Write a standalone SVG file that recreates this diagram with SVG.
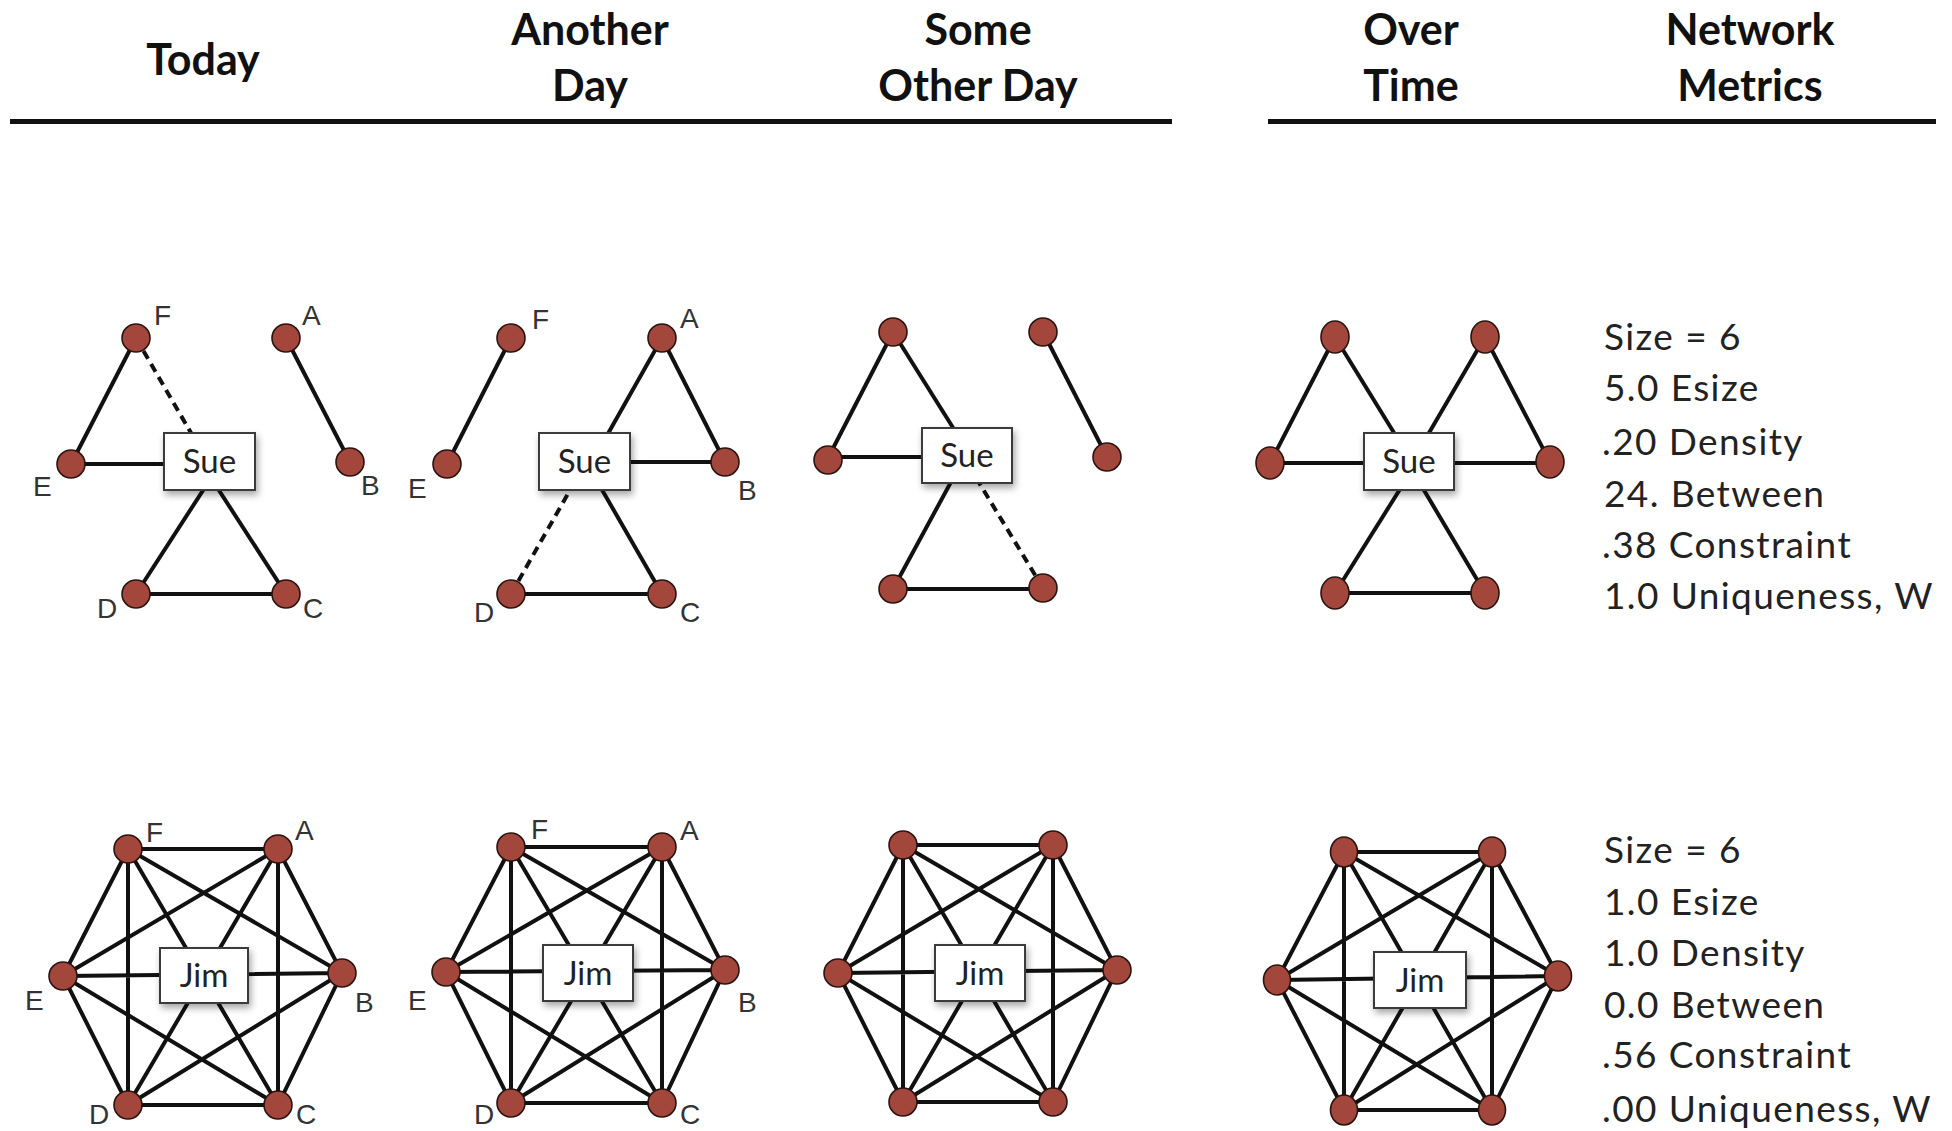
<svg xmlns="http://www.w3.org/2000/svg" width="1952" height="1131" viewBox="0 0 1952 1131">
<style>
.hdr{font-family:Lato,"Open Sans","Liberation Sans",sans-serif;font-weight:bold;font-size:43px;fill:#111;text-anchor:middle}
.rule{stroke:#111;stroke-width:5}
.e{stroke:#111;stroke-width:4;fill:none}
.d{stroke:#111;stroke-width:4;fill:none;stroke-dasharray:9 6}
.n{fill:#A3473D;stroke:#2a1410;stroke-width:1.6}
.box{fill:#fff;stroke:#3a3a3a;stroke-width:2}
.bt{font-family:Lato,"Open Sans","Liberation Sans",sans-serif;font-size:33px;fill:#222;text-anchor:middle}
.lb{font-family:"Liberation Sans",Arial,sans-serif;font-size:28px;fill:#333}
.m{font-family:Lato,"Open Sans","Liberation Sans",sans-serif;font-size:37px;letter-spacing:1.4px;fill:#222}
</style>
<defs>
<filter id="sh" x="-30%" y="-30%" width="170%" height="180%">
<feDropShadow dx="2" dy="4" stdDeviation="3.5" flood-color="#000" flood-opacity="0.35"/>
</filter>
</defs>
<rect width="1952" height="1131" fill="#fff"/>

<g id="header">
<text class="hdr" x="203" y="75">Today</text>
<text class="hdr" x="590" y="45">Another</text>
<text class="hdr" x="590" y="101">Day</text>
<text class="hdr" x="978" y="45">Some</text>
<text class="hdr" x="978" y="101">Other Day</text>
<text class="hdr" x="1411" y="45">Over</text>
<text class="hdr" x="1411" y="101">Time</text>
<text class="hdr" x="1750" y="45">Network</text>
<text class="hdr" x="1750" y="101">Metrics</text>
<line class="rule" x1="10" y1="121.5" x2="1172" y2="121.5"/>
<line class="rule" x1="1268" y1="121.5" x2="1936" y2="121.5"/>
</g>

<g id="connectors">
<!-- Sue Today -->
<line class="e" x1="136" y1="338" x2="71" y2="464"/>
<line class="d" x1="136" y1="338" x2="209" y2="464"/>
<line class="e" x1="71" y1="464" x2="209" y2="464"/>
<line class="e" x1="211" y1="478" x2="136" y2="594"/>
<line class="e" x1="211" y1="478" x2="286" y2="594"/>
<line class="e" x1="136" y1="594" x2="286" y2="594"/>
<line class="e" x1="286" y1="338" x2="350" y2="462"/>
<!-- Sue Another Day -->
<line class="e" x1="511" y1="338" x2="447" y2="464"/>
<line class="e" x1="662" y1="338" x2="592" y2="462"/>
<line class="e" x1="662" y1="338" x2="725" y2="462"/>
<line class="e" x1="585" y1="462" x2="725" y2="462"/>
<line class="d" x1="511" y1="594" x2="586" y2="462"/>
<line class="e" x1="586" y1="462" x2="662" y2="594"/>
<line class="e" x1="511" y1="594" x2="662" y2="594"/>
<!-- Sue Some Other Day -->
<line class="e" x1="893" y1="332" x2="828" y2="458"/>
<line class="e" x1="893" y1="332" x2="972" y2="458"/>
<line class="e" x1="828" y1="457" x2="967" y2="457"/>
<line class="e" x1="1043" y1="332" x2="1107" y2="457"/>
<line class="e" x1="964" y1="458" x2="893" y2="589"/>
<line class="d" x1="1043" y1="588" x2="964" y2="458"/>
<line class="e" x1="893" y1="589" x2="1043" y2="589"/>
<!-- Sue Over Time -->
<line class="e" x1="1335" y1="337" x2="1270" y2="463"/>
<line class="e" x1="1335" y1="337" x2="1412" y2="462"/>
<line class="e" x1="1485" y1="337" x2="1412" y2="462"/>
<line class="e" x1="1485" y1="337" x2="1550" y2="462"/>
<line class="e" x1="1270" y1="463" x2="1550" y2="463"/>
<line class="e" x1="1412" y1="470" x2="1335" y2="593"/>
<line class="e" x1="1412" y1="470" x2="1485" y2="593"/>
<line class="e" x1="1335" y1="593" x2="1485" y2="593"/>
<!-- Jim Today K6 -->
<path class="e" d="M128 849L278 849L342 973L278 1105L128 1105L63 976Z M128 849L342 973 M128 849L128 1105 M278 849L63 976 M278 849L278 1105 M342 973L128 1105 M278 1105L63 976 M128 849L278 1105 M278 849L128 1105 M63 976L342 973"/>
<!-- Jim Another Day K6 -->
<path class="e" d="M511 847L662 847L725 970L662 1103L511 1103L446 972Z M511 847L725 970 M511 847L511 1103 M662 847L446 972 M662 847L662 1103 M725 970L511 1103 M662 1103L446 972 M511 847L662 1103 M662 847L511 1103 M446 972L725 970"/>
<!-- Jim Some Other Day K6 -->
<path class="e" d="M903 845L1053 845L1117 970L1053 1102L903 1102L838 973Z M903 845L1117 970 M903 845L903 1102 M1053 845L838 973 M1053 845L1053 1102 M1117 970L903 1102 M1053 1102L838 973 M903 845L1053 1102 M1053 845L903 1102 M838 973L1117 970"/>
<!-- Jim Over Time K6 -->
<path class="e" d="M1344 852L1492 852L1558 976L1492 1110L1344 1110L1277 980Z M1344 852L1558 976 M1344 852L1344 1110 M1492 852L1277 980 M1492 852L1492 1110 M1558 976L1344 1110 M1492 1110L1277 980 M1344 852L1492 1110 M1492 852L1344 1110 M1277 980L1558 976"/>
</g>

<g id="sue-today">
<circle class="n" cx="136" cy="338" r="14"/><circle class="n" cx="286" cy="338" r="14"/>
<circle class="n" cx="71" cy="464" r="14"/><circle class="n" cx="350" cy="462" r="14"/>
<circle class="n" cx="136" cy="594" r="14"/><circle class="n" cx="286" cy="594" r="14"/>
<text class="lb" x="154" y="325">F</text><text class="lb" x="302" y="325">A</text>
<text class="lb" x="33" y="496">E</text><text class="lb" x="361" y="495">B</text>
<text class="lb" x="97" y="618">D</text><text class="lb" x="303" y="618">C</text>
<rect class="box" filter="url(#sh)" x="164" y="433" width="91" height="57"/>
<text class="bt" x="209.5" y="473">Sue</text>
</g>

<g id="sue-another">
<circle class="n" cx="511" cy="338" r="14"/><circle class="n" cx="662" cy="338" r="14"/>
<circle class="n" cx="447" cy="464" r="14"/><circle class="n" cx="725" cy="462" r="14"/>
<circle class="n" cx="511" cy="594" r="14"/><circle class="n" cx="662" cy="594" r="14"/>
<text class="lb" x="532" y="329">F</text><text class="lb" x="680" y="328">A</text>
<text class="lb" x="408" y="498">E</text><text class="lb" x="738" y="500">B</text>
<text class="lb" x="474" y="622">D</text><text class="lb" x="680" y="622">C</text>
<rect class="box" filter="url(#sh)" x="539" y="433" width="91" height="57"/>
<text class="bt" x="584.5" y="473">Sue</text>
</g>

<g id="sue-someother">
<circle class="n" cx="893" cy="332" r="14"/><circle class="n" cx="1043" cy="332" r="14"/>
<circle class="n" cx="828" cy="460" r="14"/><circle class="n" cx="1107" cy="457" r="14"/>
<circle class="n" cx="893" cy="589" r="14"/><circle class="n" cx="1043" cy="588" r="14"/>
<rect class="box" filter="url(#sh)" x="922" y="428" width="90" height="55"/>
<text class="bt" x="967" y="467">Sue</text>
</g>

<g id="sue-overtime">
<ellipse class="n" cx="1335" cy="337" rx="14" ry="16"/><ellipse class="n" cx="1485" cy="337" rx="14" ry="16"/>
<ellipse class="n" cx="1270" cy="463" rx="14" ry="16"/><ellipse class="n" cx="1550" cy="462" rx="14" ry="16"/>
<ellipse class="n" cx="1335" cy="593" rx="14" ry="16"/><ellipse class="n" cx="1485" cy="593" rx="14" ry="16"/>
<rect class="box" filter="url(#sh)" x="1364" y="433" width="90" height="57"/>
<text class="bt" x="1409" y="473">Sue</text>
</g>

<g id="sue-metrics">
<text class="m" x="1604" y="350">Size = 6</text>
<text class="m" x="1604" y="401">5.0 Esize</text>
<text class="m" x="1602" y="455">.20 Density</text>
<text class="m" x="1604" y="507">24. Between</text>
<text class="m" x="1602" y="558">.38 Constraint</text>
<text class="m" x="1604" y="609">1.0 Uniqueness, W</text>
</g>

<g id="jim-today">
<circle class="n" cx="128" cy="849" r="14"/><circle class="n" cx="278" cy="849" r="14"/>
<circle class="n" cx="63" cy="976" r="14"/><circle class="n" cx="342" cy="973" r="14"/>
<circle class="n" cx="128" cy="1105" r="14"/><circle class="n" cx="278" cy="1105" r="14"/>
<text class="lb" x="146" y="842">F</text><text class="lb" x="295" y="840">A</text>
<text class="lb" x="25" y="1010">E</text><text class="lb" x="355" y="1012">B</text>
<text class="lb" x="89" y="1124">D</text><text class="lb" x="296" y="1124">C</text>
<rect class="box" filter="url(#sh)" x="160" y="948" width="88" height="55"/>
<text class="bt" x="204" y="987">Jim</text>
</g>

<g id="jim-another">
<circle class="n" cx="511" cy="847" r="14"/><circle class="n" cx="662" cy="847" r="14"/>
<circle class="n" cx="446" cy="972" r="14"/><circle class="n" cx="725" cy="970" r="14"/>
<circle class="n" cx="511" cy="1103" r="14"/><circle class="n" cx="662" cy="1103" r="14"/>
<text class="lb" x="531" y="839">F</text><text class="lb" x="680" y="840">A</text>
<text class="lb" x="408" y="1010">E</text><text class="lb" x="738" y="1012">B</text>
<text class="lb" x="474" y="1124">D</text><text class="lb" x="680" y="1124">C</text>
<rect class="box" filter="url(#sh)" x="543" y="945" width="90" height="56"/>
<text class="bt" x="588" y="985">Jim</text>
</g>

<g id="jim-someother">
<circle class="n" cx="903" cy="845" r="14"/><circle class="n" cx="1053" cy="845" r="14"/>
<circle class="n" cx="838" cy="973" r="14"/><circle class="n" cx="1117" cy="970" r="14"/>
<circle class="n" cx="903" cy="1102" r="14"/><circle class="n" cx="1053" cy="1102" r="14"/>
<rect class="box" filter="url(#sh)" x="935" y="945" width="90" height="56"/>
<text class="bt" x="980" y="985">Jim</text>
</g>

<g id="jim-overtime">
<ellipse class="n" cx="1344" cy="852" rx="13.5" ry="15"/><ellipse class="n" cx="1492" cy="852" rx="13.5" ry="15"/>
<ellipse class="n" cx="1277" cy="980" rx="13.5" ry="15"/><ellipse class="n" cx="1558" cy="976" rx="13.5" ry="15"/>
<ellipse class="n" cx="1344" cy="1110" rx="13.5" ry="15"/><ellipse class="n" cx="1492" cy="1110" rx="13.5" ry="15"/>
<rect class="box" filter="url(#sh)" x="1374" y="952" width="92" height="56"/>
<text class="bt" x="1420" y="992">Jim</text>
</g>

<g id="jim-metrics">
<text class="m" x="1604" y="863">Size = 6</text>
<text class="m" x="1604" y="915">1.0 Esize</text>
<text class="m" x="1604" y="966">1.0 Density</text>
<text class="m" x="1604" y="1018">0.0 Between</text>
<text class="m" x="1602" y="1068">.56 Constraint</text>
<text class="m" x="1602" y="1122">.00 Uniqueness, W</text>
</g>
</svg>
